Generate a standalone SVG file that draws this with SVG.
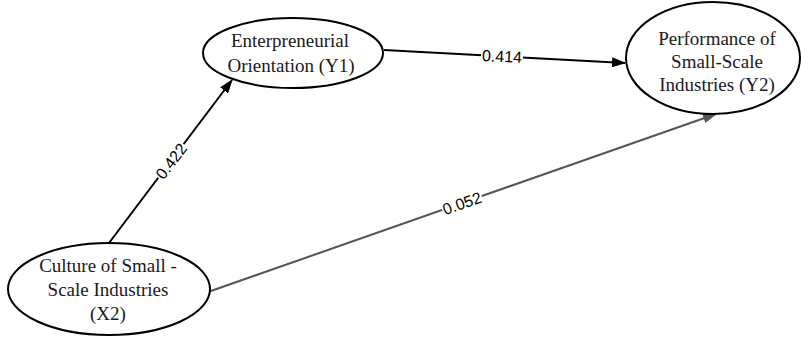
<svg xmlns="http://www.w3.org/2000/svg" width="801" height="337" viewBox="0 0 801 337">
<style>
.node ellipse{fill:#fff;stroke:#000;stroke-width:2}
.node text{font-family:"Liberation Sans",Arial,sans-serif;font-family:"Liberation Serif","Times New Roman",serif;font-size:19px;fill:#1a1a1a;text-anchor:middle}
.edge{fill:none;stroke-width:2}
.lbl text{font-family:"Liberation Sans",Arial,sans-serif;font-size:16px;fill:#000;text-anchor:middle}
.lbl rect{fill:#fff}
</style>
<defs>
<marker id="ab" markerUnits="userSpaceOnUse" markerWidth="14" markerHeight="10" refX="13" refY="5" orient="auto"><path d="M0,0 L14,5 L0,10 z" fill="#000"/></marker>
<marker id="ag" markerUnits="userSpaceOnUse" markerWidth="14" markerHeight="10" refX="13" refY="5" orient="auto"><path d="M0,0 L14,5 L0,10 z" fill="#555"/></marker>
</defs>
<rect width="801" height="337" fill="#fff"/>
<g id="connectors">
<line class="edge" x1="109" y1="243" x2="232" y2="80" stroke="#000" marker-end="url(#ab)"/>
<line class="edge" x1="384" y1="50" x2="625" y2="63" stroke="#000" marker-end="url(#ab)"/>
<line class="edge" x1="208" y1="292" x2="716" y2="114" stroke="#555" marker-end="url(#ag)"/>
<g class="lbl" transform="translate(171,161) rotate(-52.6)"><rect x="-21" y="-7" width="42" height="14"/><text y="6">0.422</text></g>
<g class="lbl" transform="translate(502,56) rotate(3)"><rect x="-21" y="-7" width="42" height="14"/><text y="6">0.414</text></g>
<g class="lbl" transform="translate(462,203) rotate(-19.3)"><rect x="-21" y="-7" width="42" height="14"/><text y="6">0.052</text></g>
</g>
<g id="Y1" class="node">
<ellipse cx="293" cy="53" rx="90" ry="35"/>
<text x="290" y="47">Enterpreneurial</text>
<text x="291" y="72">Orientation (Y1)</text>
</g>
<g id="Y2" class="node">
<ellipse cx="713" cy="58" rx="87" ry="56"/>
<text x="717" y="45">Performance of</text>
<text x="717" y="68">Small-Scale</text>
<text x="717" y="91">Industries (Y2)</text>
</g>
<g id="X2" class="node">
<ellipse cx="109" cy="289" rx="101" ry="46"/>
<text x="108" y="272">Culture of Small -</text>
<text x="108" y="296">Scale Industries</text>
<text x="108" y="320">(X2)</text>
</g>
</svg>
